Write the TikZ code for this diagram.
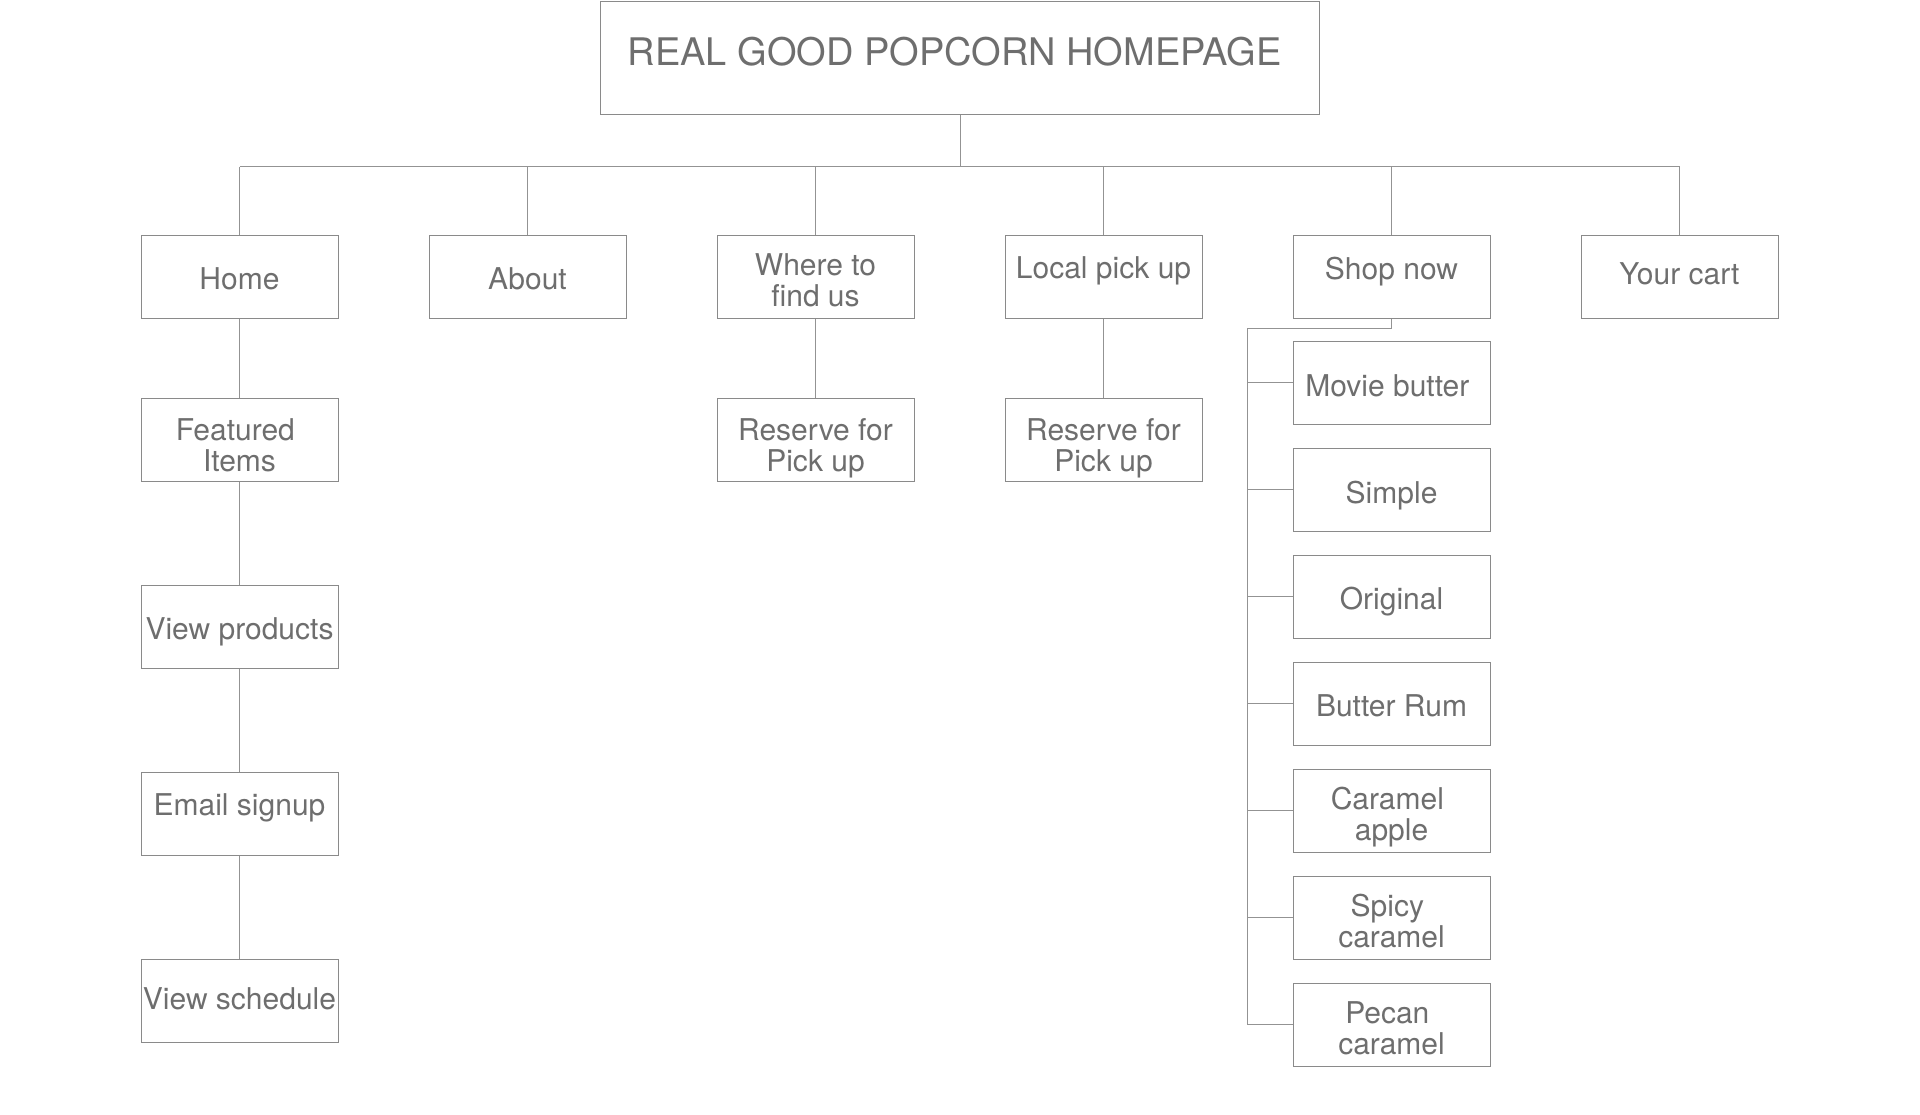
\documentclass[tikz,border=0pt]{standalone}
\usepackage{fontspec}
\setmainfont{TeX Gyre Heros}
\usetikzlibrary{calc}
\definecolor{linegray}{HTML}{939393}
\definecolor{boxgray}{HTML}{8A8A8A}
\definecolor{textgray}{HTML}{6E6E6E}
\newcommand\twolines[1]{\begin{tabular}[t]{@{}c@{}}#1\end{tabular}}
\begin{document}
\begin{tikzpicture}[x=0.5pt,y=-0.5pt,
  box/.style={draw=boxgray, line width=0.5pt, minimum width=98.5pt, minimum height=41.5pt,
    inner sep=0pt, text=textgray, font=\fontsize{15pt}{15pt}\selectfont},
  one/.style={box, text height=15pt, text depth=#1},
  two/.style={box, text height=15pt, text depth=#1},
  conn/.style={draw=linegray, line width=0.5pt}]
\useasboundingbox (0,0) rectangle (1920,1114);

% title
\node[draw=boxgray, line width=0.5pt, minimum width=359.5pt, minimum height=56.5pt, inner sep=0pt,
  text=textgray, font=\fontsize{19pt}{19pt}\selectfont, text height=19pt, text depth=11.1pt]
  (top) at (960,57.5) {REAL GOOD POPCORN HOMEPAGE\kern0.278em};

% level 1
\node[one=2.2pt]  (home)  at (239.5,276.5)  {Home};
\node[one=2.2pt]  (about) at (527.5,276.5)  {About};
\node[two=16.2pt] (where) at (815.5,276.5)  {\twolines{Where to\\find us}};
\node[one=13.2pt] (local) at (1103.5,276.5) {Local pick up};
\node[one=12.2pt] (shop)  at (1391.5,276.5) {Shop now};
\node[one=7.2pt]  (cart)  at (1679.5,276.5) {Your cart};

% home column
\node[two=13.8pt] (feat)  at (239.5,439.5)  {\twolines{Featured\kern0.278em\\Items}};
\node[one=2.2pt]  (prod)  at (239.5,626.5)  {View products};
\node[one=13.2pt] (email) at (239.5,813.5)  {Email signup};
\node[one=6.2pt]  (sched) at (239.5,1000.5) {View schedule};

% reserve boxes
\node[two=13.8pt] (resA) at (815.5,439.5)  {\twolines{Reserve for\\Pick up}};
\node[two=13.8pt] (resB) at (1103.5,439.5) {\twolines{Reserve for\\Pick up}};

% shop children
\node[one=1.8pt]  (movie)  at (1391.5,382.8)  {Movie butter\kern0.278em};
\node[one=1.8pt]  (simple) at (1391.5,489.8)  {Simple};
\node[one=2.2pt]  (orig)   at (1391.5,596.8)  {Original};
\node[one=2.2pt]  (rum)    at (1391.5,703.8)  {Butter Rum};
\node[two=16.2pt] (capple) at (1391.5,810.8)  {\twolines{Caramel\kern0.278em\\apple}};
\node[two=16.2pt] (spicy)  at (1391.5,917.8)  {\twolines{Spicy\kern0.278em\\caramel}};
\node[two=16.0pt] (pecan)  at (1391.5,1024.8) {\twolines{Pecan\kern0.278em\\caramel}};

% bus
\coordinate (busL) at (239.5,166.5);
\coordinate (busR) at (1679.5,166.5);
\draw[conn] (busL) -- (busR);
\draw[conn] (top.south) -- (top.south |- busL);
\foreach \n in {home,about,where,local,shop,cart}
  \draw[conn] (\n.north) -- (\n.north |- busL);

% vertical chains
\draw[conn] (home.south) -- (feat.north);
\draw[conn] (feat.south) -- (prod.north);
\draw[conn] (prod.south) -- (email.north);
\draw[conn] (email.south) -- (sched.north);
\draw[conn] (where.south) -- (resA.north);
\draw[conn] (local.south) -- (resB.north);

% shop bracket
\coordinate (elbow) at (1391.5,328.3);
\coordinate (spineTop) at (1247.7,328.3);
\draw[conn] (shop.south) -- (elbow) -- (spineTop) -- (spineTop |- pecan.west);
\foreach \n in {movie,simple,orig,rum,capple,spicy,pecan}
  \draw[conn] (spineTop |- \n.west) -- (\n.west);
\end{tikzpicture}
\end{document}
